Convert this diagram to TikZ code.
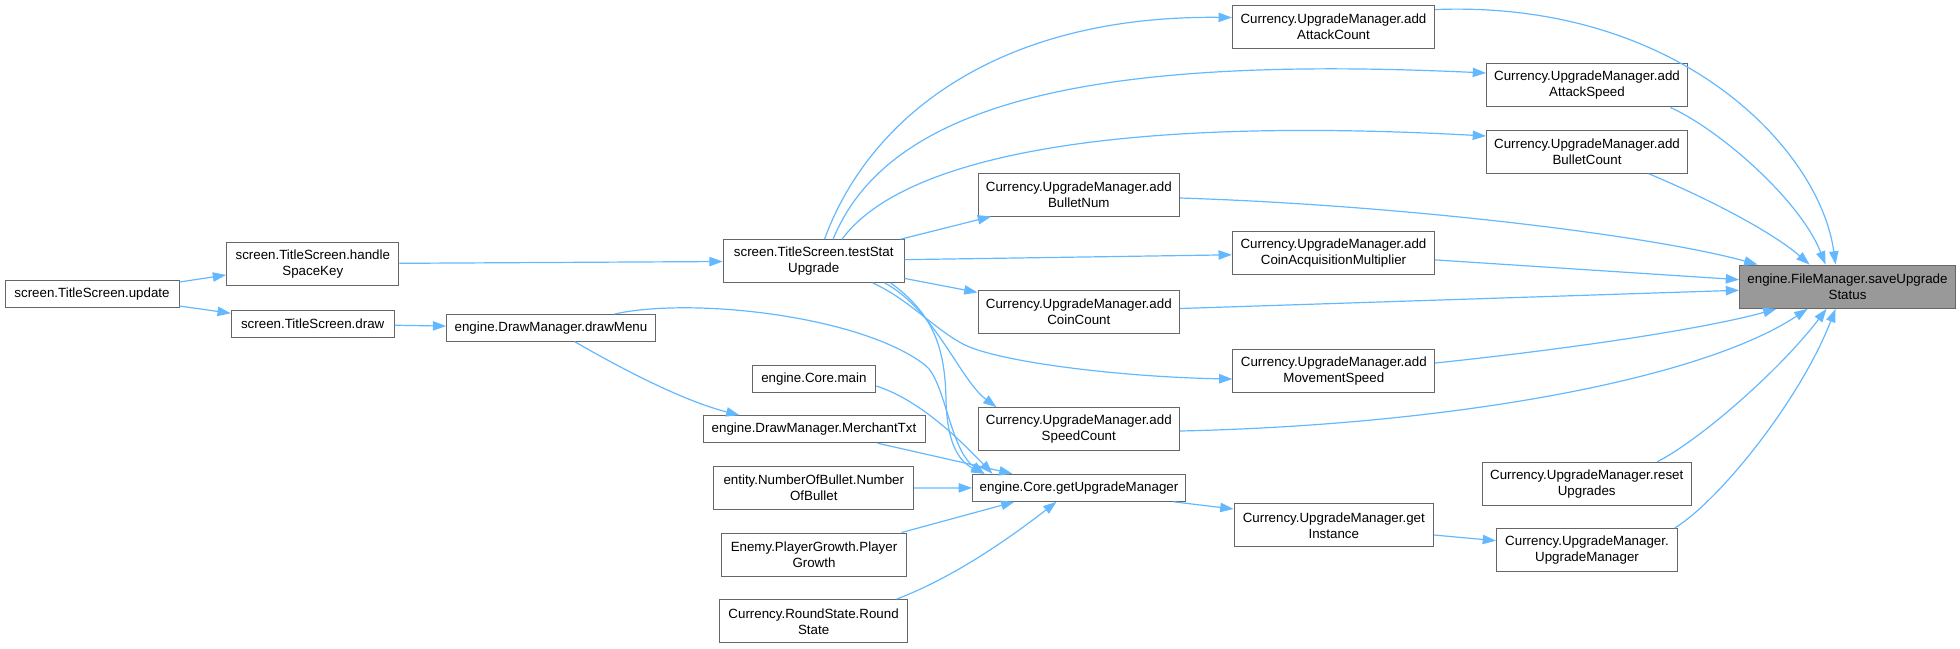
\documentclass[tikz,border=0pt]{standalone}
\usepackage{fontspec}
\setmainfont{Liberation Sans}
\usetikzlibrary{arrows.meta,calc}
\definecolor{edgec}{HTML}{63B8FF}
\definecolor{bord}{HTML}{666666}
\definecolor{hilite}{HTML}{999999}
\tikzset{
 nd/.style={draw=bord, fill=white, line width=0.75bp, inner sep=0pt, align=center, font=\fontsize{10bp}{12bp}\selectfont, text=black},
 bx/.style 2 args={minimum width=#1*0.75bp, minimum height=#2*0.75bp},
 conn/.style={draw=edgec, line width=0.9bp, -{Triangle[length=10bp,width=7bp]}},
}
\begin{document}
\begin{tikzpicture}[x=0.75bp,y=-0.75bp]
\useasboundingbox (0,0) rectangle (1960,648);
% nodes
\node[nd,bx={174}{27}] (up) at (92,294.2) {screen.TitleScreen.update};
\node[nd,bx={172.3}{43}] (hs) at (312.8,263.8) {screen.TitleScreen.handle\\SpaceKey};
\node[nd,bx={162.7}{26.5}] (dr) at (312.7,323.9) {screen.TitleScreen.draw};
\node[nd,bx={208.6}{26.5}] (dm) at (551,327.8) {engine.DrawManager.drawMenu};
\node[nd,bx={181}{42.6}] (ts) at (813.7,261) {screen.TitleScreen.testStat\\Upgrade};
\node[nd,bx={123.7}{27}] (cm) at (813.9,378.7) {engine.Core.main};
\node[nd,bx={222}{27}] (mt) at (814,429.2) {engine.DrawManager.MerchantTxt};
\node[nd,bx={199.7}{42.6}] (nb) at (813.8,488) {entity.NumberOfBullet.Number\\OfBullet};
\node[nd,bx={185.7}{43}] (pg) at (814,554.5) {Enemy.PlayerGrowth.Player\\Growth};
\node[nd,bx={188.6}{43.3}] (rs) at (813.6,621.3) {Currency.RoundState.Round\\State};
\node[nd,bx={202.3}{43.3}] (ac) at (1333.5,26.7) {Currency.UpgradeManager.add\\AttackCount};
\node[nd,bx={201}{43.3}] (as) at (1587,85.3) {Currency.UpgradeManager.add\\AttackSpeed};
\node[nd,bx={201}{43}] (bc) at (1587,151.8) {Currency.UpgradeManager.add\\BulletCount};
\node[nd,bx={201.6}{43}] (bn) at (1078.8,194.5) {Currency.UpgradeManager.add\\BulletNum};
\node[nd,bx={202.3}{43.3}] (ca) at (1333.5,253.3) {Currency.UpgradeManager.add\\CoinAcquisitionMultiplier};
\node[nd,bx={201.6}{43}] (cc) at (1078.8,311.8) {Currency.UpgradeManager.add\\CoinCount};
\node[nd,bx={201.7}{43.3}] (ms) at (1333.8,370.7) {Currency.UpgradeManager.add\\MovementSpeed};
\node[nd,bx={201.6}{43}] (sc) at (1078.8,429.2) {Currency.UpgradeManager.add\\SpeedCount};
\node[nd,bx={213}{27}] (gu) at (1079,487.8) {engine.Core.getUpgradeManager};
\node[nd,bx={199.5}{43.3}] (gi) at (1333.8,525.3) {Currency.UpgradeManager.get\\Instance};
\node[nd,bx={209.4}{43}] (ru) at (1586.7,483.8) {Currency.UpgradeManager.reset\\Upgrades};
\node[nd,bx={181}{43.3}] (um) at (1587,550.3) {Currency.UpgradeManager.\\UpgradeManager};
\node[nd,bx={215.7}{43.3},fill=hilite] (su) at (1847.5,286.7) {engine.FileManager.saveUpgrade\\Status};
% left edges
\draw[conn] ($(up.east)+(0,-12.2)$) -- ($(hs.west)+(0,11.2)$);
\draw[conn] ($(up.east)+(0,11.8)$) -- ($(dr.west)+(0,-10.6)$);
\draw[conn] (hs) -- (ts);
\draw[conn] (dr) -- (dm);
\draw[conn] ($(dm.south west)+(128.3,0)$) .. controls (615,365) and (680,400) .. ($(mt.north west)+(37,0)$);
% testStat edges
\draw[conn] ($(ts.north west)+(101.8,0)$) .. controls (870,115) and (1000,15) .. ($(ac.west)+(0,-9.2)$);
\draw[conn] ($(ts.north west)+(110.4,0)$) .. controls (890,100) and (1100,55) .. ($(as.west)+(0,-12.3)$);
\draw[conn] ($(ts.north west)+(119.3,0)$) .. controls (900,160) and (1100,115) .. ($(bc.west)+(0,-15.8)$);
\draw[conn] (ts) -- (bn);
\draw[conn] (ts) -- (ca);
\draw[conn] (ts) -- (cc);
\draw[conn] ($(ts.south west)+(149.8,0)$) .. controls (910,300) and (935,330) .. (965,345) .. controls (1000,362) and (1120,377) .. ($(ms.west)+(0,8.3)$);
\draw[conn] ($(ts.south west)+(161.8,0)$) .. controls (935,310) and (960,380) .. ($(sc.north west)+(19,0)$);
\draw[conn] ($(ts.south west)+(167.8,0)$) .. controls (935,315) and (945,350) .. (946,400) .. controls (947,445) and (960,462) .. ($(gu.north west)+(12.5,0)$);
% callers of getUpgradeManager
\draw[conn] ($(dm.north west)+(168.3,0)$) .. controls (690,297) and (860,315) .. (925,365) .. controls (945,380) and (950,450) .. ($(gu.north west)+(12.5,0)$);
\draw[conn] ($(cm.east)+(0,7.3)$) .. controls (920,400) and (960,440) .. ($(gu.north west)+(20.5,0)$);
\draw[conn] ($(mt.south east)+(-48,0)$) -- ($(gu.north west)+(40.5,0)$);
\draw[conn] (nb) -- (gu);
\draw[conn] ($(pg.north east)+(-5.8,0)$) -- ($(gu.south west)+(42.5,0)$);
\draw[conn] ($(rs.north east)+(-11.9,0)$) .. controls (960,575) and (1020,530) .. ($(gu.south west)+(84.5,0)$);
\draw[conn] ($(gu.south east)+(-12.4,0)$) -- ($(gi.west)+(0,-16.3)$);
\draw[conn] ($(gi.east)+(0,9.7)$) -- ($(um.west)+(0,-9.6)$);
% into saveUpgradeStatus
\draw[conn] ($(ac.north east)+(0,5)$) .. controls (1680,0) and (1820,150) .. ($(su.north west)+(96.4,0)$);
\draw[conn] ($(as.south west)+(184.4,0)$) .. controls (1720,130) and (1800,200) .. ($(su.north west)+(86.4,0)$);
\draw[conn] ($(bc.south west)+(162.8,0)$) .. controls (1700,195) and (1770,230) .. ($(su.north west)+(70.4,0)$);
\draw[conn] ($(bn.east)+(0,3.5)$) .. controls (1400,205) and (1650,235) .. ($(su.north west)+(18.4,0)$);
\draw[conn] (ca) -- (su);
\draw[conn] (cc) -- (su);
\draw[conn] ($(ms.east)+(0,-7.7)$) .. controls (1560,350) and (1700,330) .. ($(su.south west)+(37.4,0)$);
\draw[conn] ($(sc.east)+(0,1.8)$) .. controls (1450,425) and (1700,380) .. ($(su.south west)+(68.4,0)$);
\draw[conn] ($(ru.north west)+(175.6,0)$) .. controls (1700,440) and (1780,370) .. ($(su.south west)+(87.4,0)$);
\draw[conn] ($(um.north west)+(178.6,0)$) .. controls (1720,500) and (1800,400) .. ($(su.south west)+(96.4,0)$);
\end{tikzpicture}
\end{document}
